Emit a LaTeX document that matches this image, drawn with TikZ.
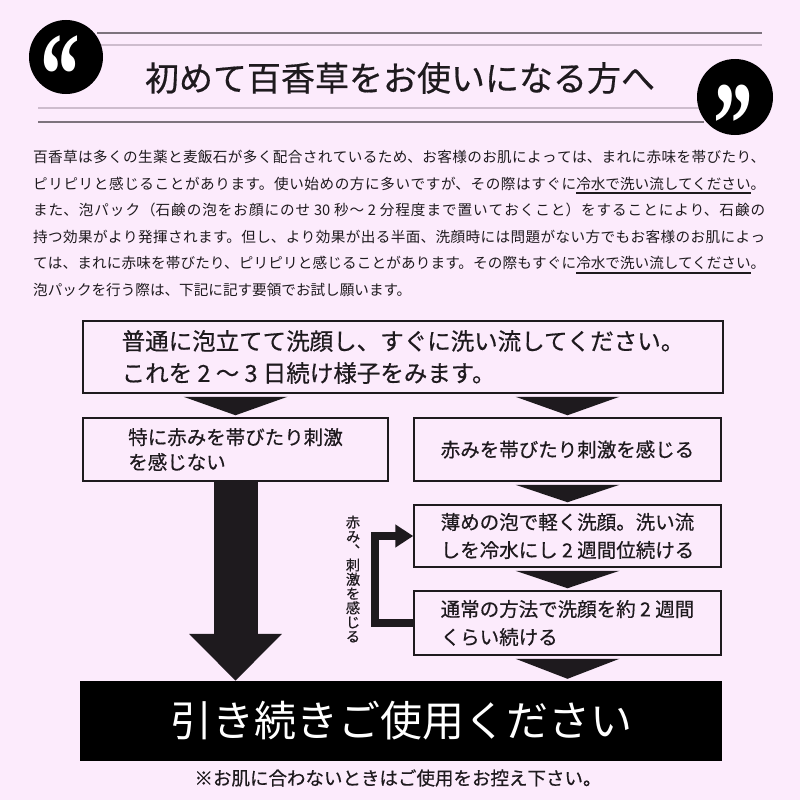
\documentclass[tikz,border=0pt]{standalone}
\usepackage{fontspec}
\setmainfont{Noto Sans CJK JP}
\newfontfamily\medfont[FakeBold=0.5]{Noto Sans CJK JP}
\newfontfamily\quotefont{Liberation Serif}
\usetikzlibrary{arrows.meta, calc}
\definecolor{pinkbg}{RGB}{252, 235, 252}
\definecolor{inkgray}{RGB}{30, 26, 30}
\definecolor{ruledark}{RGB}{125, 115, 125}
\definecolor{rulelight}{RGB}{205, 188, 205}
\XeTeXlinebreaklocale "ja"
\XeTeXlinebreakskip=0pt plus 3pt minus 0.3pt
\newcommand{\markline}[1]{\setbox0=\hbox{#1}\rlap{\rule[-4.6pt]{\wd0}{1.3pt}}\box0}
\newcommand{\flowtri}[3]{\fill[inkgray] ($(#1.south -| #3)+(-52,3)$) -- ++(104,0) -- ($(#2.north -| #3)+(0,-2)$) -- cycle;}
\newcommand{\bigquote}[2]{\smash{\raisebox{#1}{\scalebox{0.66}[1]{#2}}}}

\begin{document}
\begin{tikzpicture}[
    x=1pt, y=-1pt,
    every node/.style={text=inkgray},
    flowbox/.style={draw=inkgray, line width=1.5pt, align=left, inner sep=0pt},
    smalltext/.style={font=\medfont\fontsize{19.5}{25}\selectfont},
    quotedisc/.style={circle, fill=black, inner sep=0pt},
    quotemark/.style={font=\quotefont\bfseries\fontsize{120}{120}\selectfont, text=white, inner sep=0pt},
    rule/.style={line width=#1},
    loopline/.style={draw=inkgray, line width=8pt, line join=miter, -{Triangle[length=18pt, width=22pt]}},
    bigarrow/.style={draw=inkgray, line width=44pt, -{Triangle[length=47pt, width=90pt]}}
]
\useasboundingbox (0,0) rectangle (800,800);
\fill[pinkbg] (0,0) rectangle (800,800);

% header rules and quote discs
\draw[ruledark, rule=1.6pt] (97,33) -- (762,33);
\draw[rulelight, rule=1.2pt] (97,45) -- (762,45);
\draw[rulelight, rule=1.2pt] (38,108) -- (704,108);
\draw[ruledark, rule=1.6pt] (38,122) -- (704,122);
\node[quotedisc, minimum size=74pt] (opendisc) at (66,57) {};
\node[quotedisc, minimum size=76pt] (closedisc) at (735,97) {};
\node[quotemark] (openmark) at (60,56) {\bigquote{-59.5pt}{“}};
\node[quotemark] (closemark) at (734,101) {\bigquote{59.5pt}{\rotatebox{180}{“}}};
\node[font=\medfont\fontsize{34}{34}\selectfont] (title) at (400,78) {初めて百香草をお使いになる方へ};

% intro paragraph
\node[anchor=north west, inner sep=0pt, text width=732pt, align=justify,
      font=\fontsize{14.6}{26.6}\selectfont] (intro) at (33,150) {\tolerance=10000\noindent
百香草は多くの生薬と麦飯石が多く配合されているため、お客様のお肌によっては、まれに赤味を帯びたり、\linebreak
ピリピリと感じることがあります。使い始めの方に多いですが、その際はすぐに\markline{冷水で洗い流してください}。\linebreak
また、泡パック（石鹸の泡をお顔にのせ 30 秒～ 2 分程度まで置いておくこと）をすることにより、石鹸の\linebreak
持つ効果がより発揮されます。但し、より効果が出る半面、洗顔時には問題がない方でもお客様のお肌によっ\linebreak
ては、まれに赤味を帯びたり、ピリピリと感じることがあります。その際もすぐに\markline{冷水で洗い流してください}。\linebreak
泡パックを行う際は、下記に記す要領でお試し願います。};

% flow boxes
\node[flowbox, minimum width=640pt, minimum height=72pt, font=\medfont\fontsize{23.5}{32}\selectfont] (wash) at (403,357)
    {普通に泡立てて洗顔し、すぐに洗い流してください。\\これを 2 ～ 3 日続け様子をみます。};
\node[flowbox, smalltext, minimum width=305pt, minimum height=63pt] (calm) at (235.5,449.5)
    {特に赤みを帯びたり刺激\\を感じない};
\node[flowbox, smalltext, minimum width=307pt, minimum height=63pt] (sting) at (567.5,449.5)
    {赤みを帯びたり刺激を感じる};
\node[flowbox, font=\medfont\fontsize{19.5}{28}\selectfont, minimum width=307pt, minimum height=62pt] (gentle) at (567.5,536)
    {薄めの泡で軽く洗顔。洗い流\\しを冷水にし 2 週間位続ける};
\node[flowbox, font=\medfont\fontsize{19.5}{28}\selectfont, minimum width=307pt, minimum height=64pt] (usual) at (567.5,623)
    {通常の方法で洗顔を約 2 週間\\くらい続ける};
\node[fill=black, minimum width=642pt, minimum height=80pt, inner sep=0pt, text=white,
      font=\fontsize{42}{42}\selectfont] (keepuse) at (401,721) {引き続きご使用ください};
\node[font=\medfont\fontsize{18.5}{18.5}\selectfont] (caution) at (398,778) {※お肌に合わないときはご使用をお控え下さい。};

% chevrons
\flowtri{wash}{calm}{calm}
\flowtri{wash}{sting}{sting}
\flowtri{sting}{gentle}{gentle}
\flowtri{gentle}{usual}{usual}
\flowtri{usual}{keepuse}{usual}

% arrows
\draw[bigarrow] (calm.south) -- (calm.south |- keepuse.north);
\draw[loopline] (usual.west) -- ++(-38,0) |- (gentle.west);
\node[font=\medfont\fontsize{14.2}{14.3}\selectfont, align=center, inner sep=0pt] (backnote) at (353,579)
    {赤\\み\\︑\\刺\\激\\を\\感\\じ\\る};

\end{tikzpicture}
\end{document}
